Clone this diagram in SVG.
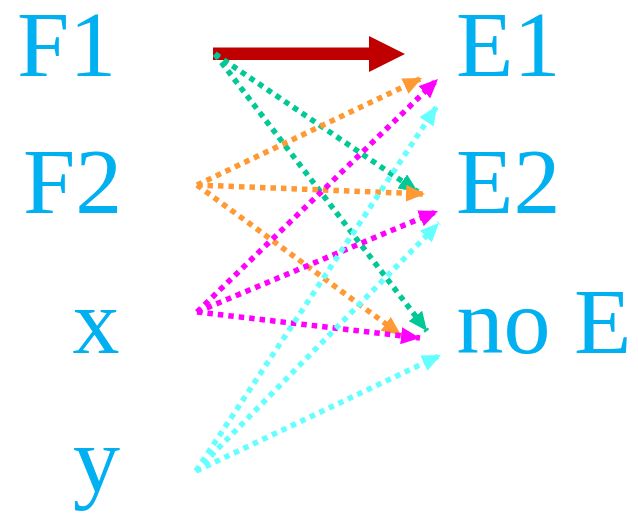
<svg xmlns="http://www.w3.org/2000/svg" width="638" height="516" viewBox="0 0 638 516">
<style>
text{font-family:'Liberation Serif','Times New Roman',serif;font-size:94px;fill:#00B0F0}
.d{fill:none;stroke-width:5.5;stroke-dasharray:5.5 5}
.g{stroke:#00C896}
.o{stroke:#FF9933}
.m{stroke:#FF00FF}
.c{stroke:#66FFFF}
</style>
<defs>
<marker id="ag" markerUnits="userSpaceOnUse" markerWidth="19" markerHeight="17" refX="19" refY="8.5" orient="auto"><path d="M0,0 L19,8.5 L0,17 Z" fill="#00C896"/></marker>
<marker id="ao" markerUnits="userSpaceOnUse" markerWidth="19" markerHeight="17" refX="19" refY="8.5" orient="auto"><path d="M0,0 L19,8.5 L0,17 Z" fill="#FF9933"/></marker>
<marker id="am" markerUnits="userSpaceOnUse" markerWidth="19" markerHeight="17" refX="19" refY="8.5" orient="auto"><path d="M0,0 L19,8.5 L0,17 Z" fill="#FF00FF"/></marker>
<marker id="ac" markerUnits="userSpaceOnUse" markerWidth="19" markerHeight="17" refX="19" refY="8.5" orient="auto"><path d="M0,0 L19,8.5 L0,17 Z" fill="#66FFFF"/></marker>
</defs>
<g id="F1"><text x="17" y="76">F1</text></g>
<g id="F2"><text x="23" y="213">F2</text></g>
<g id="x"><text x="72.5" y="353">x</text></g>
<g id="y"><text x="73" y="491">y</text></g>
<g id="E1"><text x="456" y="76">E1</text></g>
<g id="E2"><text x="456" y="213">E2</text></g>
<g id="noE"><text x="456.5" y="353">no E</text></g>
<g id="connectors">
<rect x="213" y="47.5" width="158" height="12.5" fill="#C00000"/>
<polygon points="369,36 405,54 369,72" fill="#C00000"/>
<line class="d g" x1="215" y1="54" x2="418" y2="192" marker-end="url(#ag)"/>
<line class="d g" x1="215" y1="54" x2="427" y2="331" marker-end="url(#ag)"/>
<line class="d o" x1="197" y1="185" x2="422" y2="78" marker-end="url(#ao)"/>
<line class="d o" x1="197" y1="185" x2="425" y2="194" marker-end="url(#ao)"/>
<line class="d o" x1="197" y1="185" x2="401" y2="335" marker-end="url(#ao)"/>
<line class="d m" x1="197" y1="312" x2="438" y2="79" marker-end="url(#am)"/>
<line class="d m" x1="197" y1="312" x2="438" y2="211" marker-end="url(#am)"/>
<line class="d m" x1="197" y1="312" x2="420" y2="338" marker-end="url(#am)"/>
<line class="d c" x1="196" y1="471" x2="437" y2="106" marker-end="url(#ac)"/>
<line class="d c" x1="196" y1="471" x2="439" y2="223" marker-end="url(#ac)"/>
<line class="d c" x1="196" y1="471" x2="441" y2="355" marker-end="url(#ac)"/>
</g>
</svg>
